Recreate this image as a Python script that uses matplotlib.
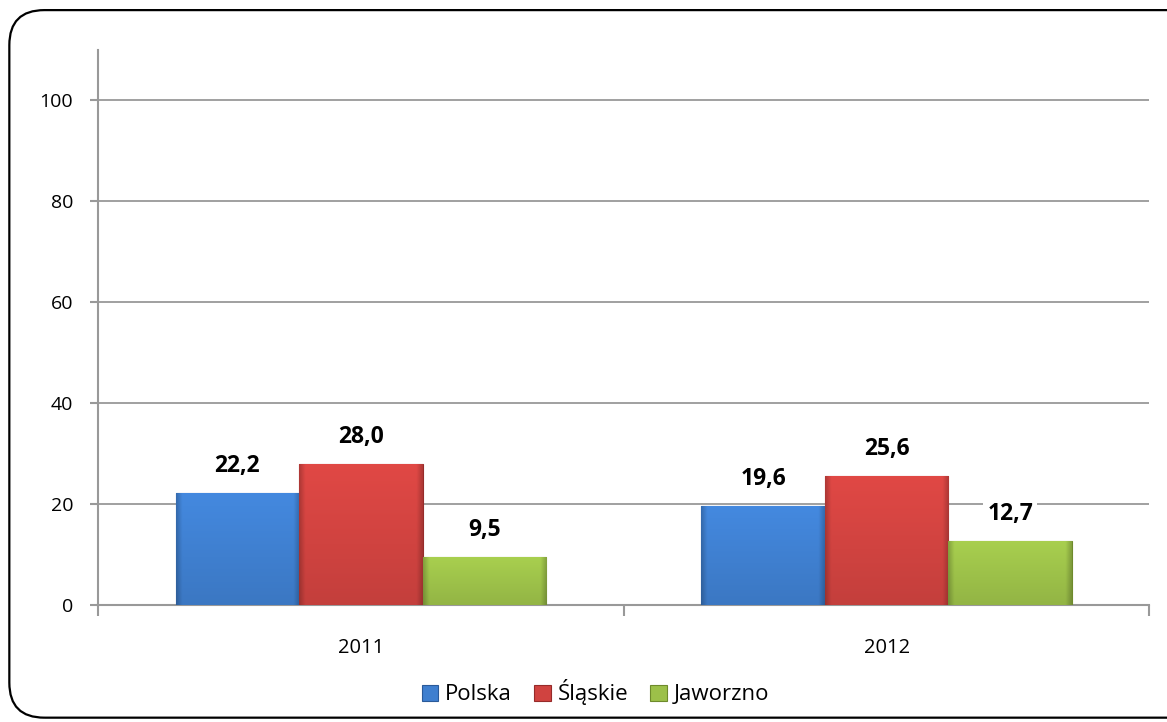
import matplotlib.pyplot as plt
import numpy as np
from matplotlib.patches import FancyBboxPatch

plt.rcParams['font.family'] = ['Open Sans', 'DejaVu Sans']

years = ['2011', '2012']
series = ['Polska', 'Śląskie', 'Jaworzno']
polska = [22.2, 19.6]
slaskie = [28.0, 25.6]
jaworzno = [9.5, 12.7]
values = [polska, slaskie, jaworzno]
colors = ['#3f7fcf', '#d04340', '#9cc049']
dark = ['#2a5a99', '#962b2a', '#6e8a2c']

fig = plt.figure(figsize=(11.67, 7.22), dpi=100)
ax = fig.add_axes([0.084, 0.162, 0.901, 0.769])

# rounded frame
frame = FancyBboxPatch((0.008, 0.006), 1.05, 0.98, boxstyle='round,pad=0,rounding_size=0.03',
                       transform=fig.transFigure, fill=False, edgecolor='black', linewidth=1.6,
                       mutation_aspect=1167 / 722)
fig.patches.append(frame)

x = np.arange(len(years))
w = 0.235
offsets = [-w, 0, w]

# bevel-like shading: flat middle, darker edges
t = np.linspace(0, 1, 200)
edge = np.minimum(t, 1 - t)
shade_h = 1 - 0.22 * np.clip(1 - edge / 0.05, 0, 1)

for i, (vals, c, d) in enumerate(zip(values, colors, dark)):
    bars = ax.bar(x + offsets[i], vals, w, color=c, edgecolor=d, linewidth=0.8,
                  label=series[i], zorder=3)
    rgb = np.array(plt.matplotlib.colors.to_rgb(c))
    for b, v in zip(bars, vals):
        rows = 200
        tv = np.linspace(0, 1, rows)[:, None]  # 0 top -> 1 bottom
        shade_v = 1.08 - 0.14 * tv
        img = np.clip(rgb[None, None, :] * (shade_h[None, :] * shade_v)[:, :, None], 0, 1)
        im = ax.imshow(img, extent=[b.get_x(), b.get_x() + w, 0, v], aspect='auto',
                       zorder=3.5, interpolation='bicubic')
        im.set_clip_path(b)
        ax.text(b.get_x() + w / 2, v + 3.0, f'{v:.1f}'.replace('.', ','), ha='center',
                va='bottom', fontsize=16.5, fontweight='bold', zorder=5,
                bbox=dict(facecolor='white', edgecolor='none', pad=3))

ax.set_xlim(-0.5, 1.5)
ax.set_ylim(0, 110)
ax.set_yticks([0, 20, 40, 60, 80, 100])
ax.set_xticks([0, 1])
ax.set_xticklabels(years)
ax.set_xticks([-0.5, 0.5, 1.5], minor=True)
ax.tick_params(axis='x', which='major', length=0, pad=24, labelsize=14.5)
ax.tick_params(axis='x', which='minor', length=8, color='#999999', width=1.5)
ax.tick_params(axis='y', length=6, color='#999999', width=1.5, labelsize=14, pad=12)
ax.yaxis.grid(True, color='#999999', linewidth=1.3, zorder=0)
ax.set_axisbelow(True)
for s in ['top', 'right']:
    ax.spines[s].set_visible(False)
for s in ['left', 'bottom']:
    ax.spines[s].set_color('#999999')
    ax.spines[s].set_linewidth(1.5)

ax.legend(loc='upper center', bbox_to_anchor=(0.473, -0.098), ncol=3, frameon=False,
          fontsize=16, handlelength=0.75, handleheight=0.75, handletextpad=0.3, columnspacing=1.0)

plt.savefig('out.png', dpi=100)
